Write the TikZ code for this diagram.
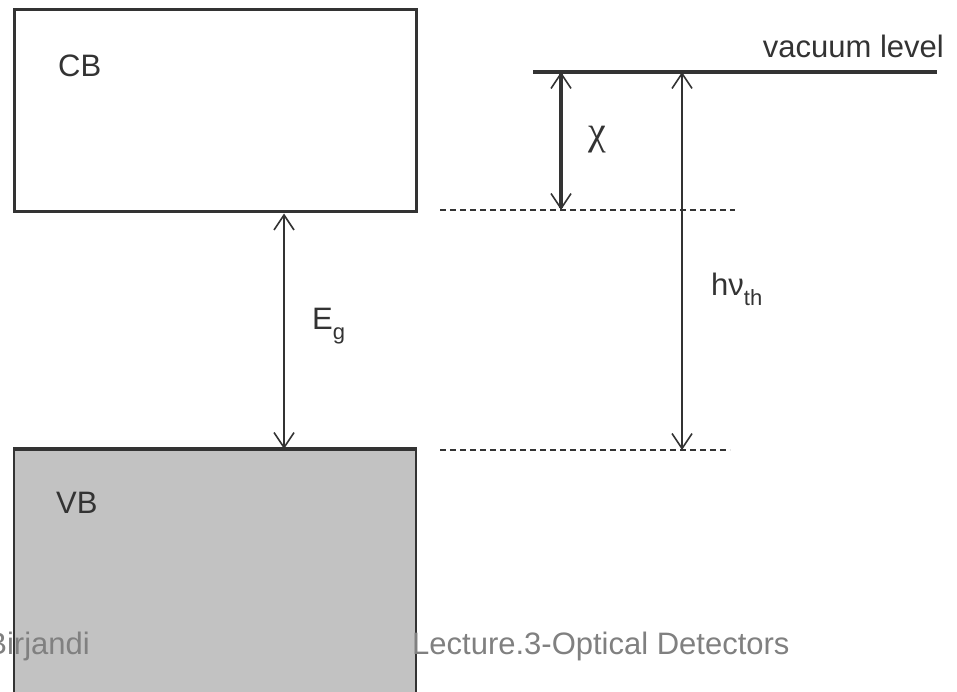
\documentclass[tikz,border=0pt]{standalone}
\usepackage{fontspec}
\setmainfont{Liberation Sans}
\newfontfamily\greekserif{Liberation Serif}
\usetikzlibrary{arrows.meta}
\definecolor{ink}{HTML}{333333}
\definecolor{vbfill}{HTML}{C2C2C2}
\definecolor{foot}{HTML}{808080}
\tikzset{
  bandbox/.style={draw=ink, inner sep=0pt, line width=3pt},
  lbl/.style={text=ink, inner sep=0pt, font=\fontsize{31}{31}\selectfont},
  footlbl/.style={text=foot, inner sep=0pt, font=\fontsize{31}{31}\selectfont},
  dim/.style={draw=ink, line width=2pt, {Straight Barb[length=15pt,width=20pt,line width=1.6pt]}-{Straight Barb[length=15pt,width=20pt,line width=1.6pt]}},
  dimthick/.style={dim, line width=3.2pt},
  levelline/.style={draw=ink, line width=3.2pt},
  dashlevel/.style={draw=ink, line width=2pt, dash pattern=on 6pt off 4pt}
}
\begin{document}
\begin{tikzpicture}[x=1pt,y=-1pt]
\useasboundingbox (0,0) rectangle (957,692);
% conduction band
\node[bandbox, minimum width=402pt, minimum height=202pt] (cb) at (215,111) {};
% valence band (extends past the bottom edge)
\node[draw=ink, fill=vbfill, line width=2pt, inner sep=0pt, minimum width=402pt, minimum height=270pt] (vb) at (215,585) {};
\draw[levelline] (vb.north west) -- (vb.north east);
\node[lbl, anchor=base west] (cblbl) at (58,77) {CB};
\node[lbl, anchor=base west] (vblbl) at (56,513) {VB};
% band gap arrow
\coordinate (egx) at (284,0);
\draw[dim] (egx |- cb.south) -- (egx |- vb.north);
\node[lbl, anchor=base west] (eglbl) at (312,329) {E\raisebox{-0.34em}{\fontsize{22}{22}\selectfont g}};
% vacuum level
\coordinate (vacL) at (533,72);
\coordinate (vacR) at (937,72);
\draw[levelline] (vacL) -- (vacR);
\node[lbl, anchor=base east] (vaclbl) at (944,58) {vacuum level};
% dashed levels
\coordinate (ecL) at (440,210);
\coordinate (ecR) at (735,210);
\coordinate (evL) at (440,450);
\coordinate (evR) at (730,450);
\draw[dashlevel] (ecL) -- (ecR);
\draw[dashlevel] (evL) -- (evR);
% chi arrow
\coordinate (chix) at (561,0);
\draw[dimthick] (chix |- vacL) -- (chix |- ecL);
\node[lbl, font=\greekserif\fontsize{40}{40}\selectfont] (chilbl) at (597,140) {χ};
% h nu threshold arrow
\coordinate (hnx) at (682,0);
\draw[dim] (hnx |- vacL) -- (hnx |- evL);
\node[lbl, anchor=base west] (hnlbl) at (711,295) {hν\raisebox{-0.34em}{\fontsize{22}{22}\selectfont th}};
% footer
\node[footlbl, anchor=base east] (footL) at (90,654) {Birjandi};
\node[footlbl, anchor=base west] (footR) at (412,654) {Lecture.3-Optical Detectors};
\end{tikzpicture}
\end{document}
